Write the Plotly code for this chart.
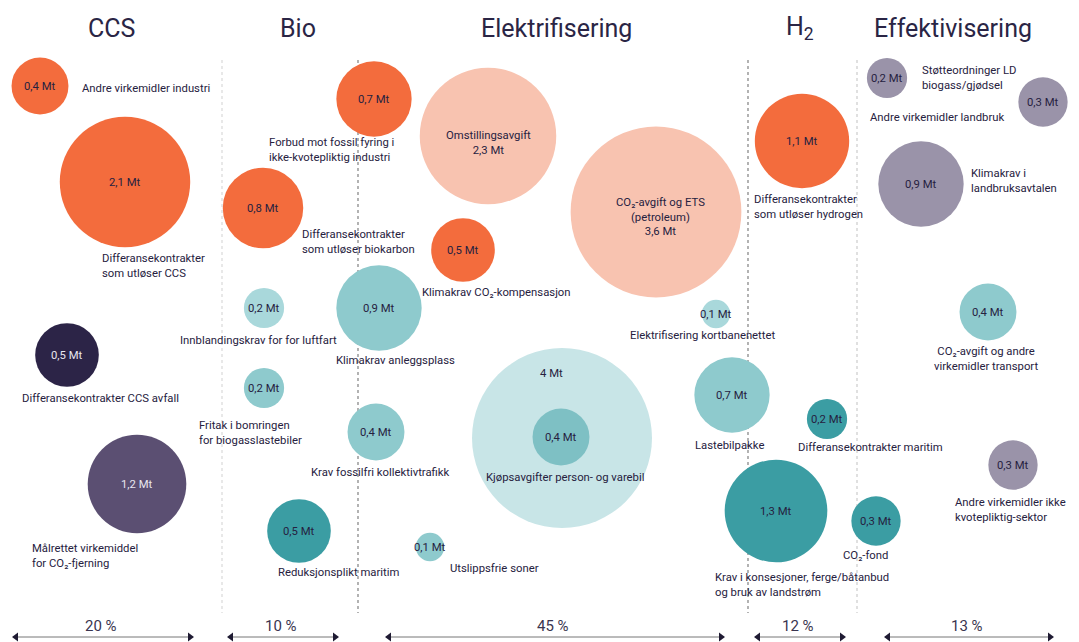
import plotly.graph_objects as go

# ---------------- data ----------------
measures = [
    "Andre virkemidler industri",
    "Differansekontrakter<br>som utløser CCS",
    "Differansekontrakter CCS avfall",
    "Målrettet virkemiddel<br>for CO₂-fjerning",
    "Forbud mot fossil fyring i<br>ikke-kvotepliktig industri",
    "Differansekontrakter<br>som utløser biokarbon",
    "Innblandingskrav for for luftfart",
    "Fritak i bomringen<br>for biogasslastebiler",
    "Reduksjonsplikt maritim",
    "Omstillingsavgift",
    "CO₂-avgift og ETS<br>(petroleum)",
    "Klimakrav CO₂-kompensasjon",
    "Klimakrav anleggsplass",
    "Krav fossilfri kollektivtrafikk",
    "Kjøpsavgifter person- og varebil",
    "",
    "Utslippsfrie soner",
    "Elektrifisering kortbanenettet",
    "Lastebilpakke",
    "Krav i konsesjoner, ferge/båtanbud<br>og bruk av landstrøm",
    "Differansekontrakter<br>som utløser hydrogen",
    "Differansekontrakter maritim",
    "CO₂-fond",
    "Støtteordninger LD<br>biogass/gjødsel",
    "Andre virkemidler landbruk",
    "Klimakrav i<br>landbruksavtalen",
    "CO₂-avgift og andre<br>virkemidler transport",
    "Andre virkemidler ikke<br>kvotepliktig-sektor",
]
mt = [0.4, 2.1, 0.5, 1.2, 0.7, 0.8, 0.2, 0.2, 0.5, 2.3, 3.6, 0.5, 0.9, 0.4,
      4.0, 0.4, 0.1, 0.1, 0.7, 1.3, 1.1, 0.2, 0.3, 0.2, 0.3, 0.9, 0.4, 0.3]
sector = ["CCS", "CCS", "CCS", "CCS", "Bio", "Bio", "Bio", "Bio", "Bio",
          "Elektrifisering", "Elektrifisering", "Elektrifisering", "Elektrifisering",
          "Elektrifisering", "Elektrifisering", "Elektrifisering", "Elektrifisering",
          "Elektrifisering", "Elektrifisering", "Elektrifisering",
          "H2", "H2", "H2",
          "Effektivisering", "Effektivisering", "Effektivisering", "Effektivisering",
          "Effektivisering"]

sectors = ["CCS", "Bio", "Elektrifisering", "H<sub>2</sub>", "Effektivisering"]
sector_share = [20, 10, 45, 12, 13]

# ---------------- layout (positions in page pixels) ----------------
bx = [40, 125, 67, 137, 374, 263, 264, 264, 299, 488, 656, 463, 379, 376,
      562, 561, 430, 716, 732, 776, 802, 827, 876, 887, 1043, 921, 988, 1013]
by = [86, 182, 355, 484, 99, 208, 308, 388, 531, 136, 212, 250, 308, 432,
      438, 437, 547, 314, 395, 511, 141, 419, 521, 78, 102, 184, 312, 465]
# label placement: (x, y, anchor) ; None = text inside bubble
label_pos = [
    (80, 88, "left"), (100, 266, "left"), (100, 398, "center"), (30, 556, "left"),
    (267, 150, "left"), (300, 242, "left"), (258, 340, "center"), (197, 433, "left"),
    (338, 572, "center"), None, None, (420, 292, "left"), (395, 360, "center"),
    (380, 472, "center"), (565, 477, "center"), None, (494, 568, "center"),
    (702, 335, "center"), (729, 445, "center"), (713, 585, "left"),
    (752, 207, "left"), (870, 447, "center"), (865, 555, "center"),
    (920, 78, "left"), (868, 117, "left"), (969, 181, "left"),
    (986, 359, "center"), (953, 510, "left"),
]

ORANGE = "#F36C3D"; SALMON = "#F8C3B0"; NAVY = "#2C2447"; PURPLE = "#5B4F72"
GREY = "#9A93A9"; LTEAL = "#A9D8DB"; TEAL = "#8ECACD"; VLTEAL = "#C8E5E7"
INNER = "#7EC0C4"; DTEAL = "#3B9DA3"
colors = [ORANGE, ORANGE, NAVY, PURPLE, ORANGE, ORANGE, LTEAL, TEAL, DTEAL,
          SALMON, SALMON, ORANGE, TEAL, TEAL, VLTEAL, INNER, TEAL, LTEAL, TEAL,
          DTEAL, ORANGE, DTEAL, DTEAL, GREY, GREY, GREY, TEAL, GREY]
light_text = {2, 3}
named_inside = {9, 10}

TXT = "#262140"
FONT = "Roboto"
FS = 11.3

header_x = [111, 298, 556, 800, 953]
span_x = [(13, 193), (228, 338), (386, 724), (755, 845), (885, 1053)]
arrow_y = 637
divider_x = [(222, "#dcdcdc"), (358, "#8a8a8a"), (748, "#8a8a8a"), (857, "#d0d0d0")]

# the page body has an 8px margin: shrink the figure and shift the ranges so
# that data coordinates equal page pixels
PAGE_W, PAGE_H, OFF = 1079, 642, 8


def fmt(v):
    s = f"{v:.1f}".replace(".", ",")
    if s.endswith(",0"):
        s = s[:-2]
    return s + " Mt"


fig = go.Figure()
fig.add_trace(go.Scatter(
    x=bx, y=by, mode="markers",
    marker=dict(size=mt, sizemode="area", sizeref=1 / 4050, color=colors,
                line=dict(width=0), opacity=1),
    text=[m.replace("<br>", " ") for m in measures],
    customdata=sector,
    hovertemplate="%{text}<br>%{marker.size} Mt<extra>%{customdata}</extra>",
    showlegend=False,
))

# arrowheads of the share spans
ah_x, ah_sym = [], []
for x0, x1 in span_x:
    ah_x += [x0 + 3, x1 - 3]
    ah_sym += ["triangle-left", "triangle-right"]
fig.add_trace(go.Scatter(
    x=ah_x, y=[arrow_y] * len(ah_x), mode="markers", hoverinfo="skip",
    marker=dict(symbol=ah_sym, size=8, color="#1f1b33", line=dict(width=0)),
    showlegend=False,
))

ann = []
# value text inside bubbles
for i, v in enumerate(mt):
    if i in named_inside:
        continue
    if i == 14:  # big ring: value above inner bubble
        ann.append(dict(x=bx[i] - 11, y=by[i] - 65, text=fmt(v), showarrow=False,
                        font=dict(family=FONT, size=FS, color=TXT)))
        continue
    ann.append(dict(x=bx[i], y=by[i], text=fmt(v), showarrow=False,
                    font=dict(family=FONT, size=FS,
                              color="#E9E7EF" if i in light_text else TXT)))
# bubbles with name inside
ann.append(dict(x=bx[9], y=by[9] + 7, text=measures[9] + "<br>" + fmt(mt[9]),
                showarrow=False, font=dict(family=FONT, size=FS, color=TXT)))
ann.append(dict(x=bx[10] + 4, y=by[10] + 5, text=measures[10] + "<br>" + fmt(mt[10]),
                showarrow=False, font=dict(family=FONT, size=FS, color=TXT)))
# descriptive labels
for i, lp in enumerate(label_pos):
    if lp is None or not measures[i]:
        continue
    x, y, anc = lp
    ann.append(dict(x=x, y=y, text=measures[i], showarrow=False, xanchor=anc,
                    align=anc, font=dict(family=FONT, size=FS, color=TXT)))
# headers
for s, hx in zip(sectors, header_x):
    ann.append(dict(x=hx, y=28, text=s, showarrow=False,
                    font=dict(family=FONT, size=25, color="#2A2545")))
# share labels
for p, (x0, x1) in zip(sector_share, span_x):
    ann.append(dict(x=(x0 + x1) / 2 - 2, y=626, text=f"{p} %", showarrow=False,
                    font=dict(family=FONT, size=15, color="#3A3550")))

shapes = []
for dx, c in divider_x:
    shapes.append(dict(type="line", x0=dx, x1=dx, y0=60, y1=613, xref="x", yref="y",
                       line=dict(color=c, width=1.3, dash="dot"), layer="below"))
for x0, x1 in span_x:
    shapes.append(dict(type="line", x0=x0 + 3, x1=x1 - 3, y0=arrow_y, y1=arrow_y,
                       xref="x", yref="y", line=dict(color="#777", width=1),
                       layer="below"))

fig.update_layout(
    width=PAGE_W - OFF, height=PAGE_H - OFF, margin=dict(l=0, r=0, t=0, b=0),
    paper_bgcolor="white", plot_bgcolor="white",
    xaxis=dict(range=[OFF, PAGE_W], visible=False, fixedrange=True),
    yaxis=dict(range=[PAGE_H, OFF], visible=False, fixedrange=True),
    annotations=ann, shapes=shapes,
)
fig.write_html("out.html")
